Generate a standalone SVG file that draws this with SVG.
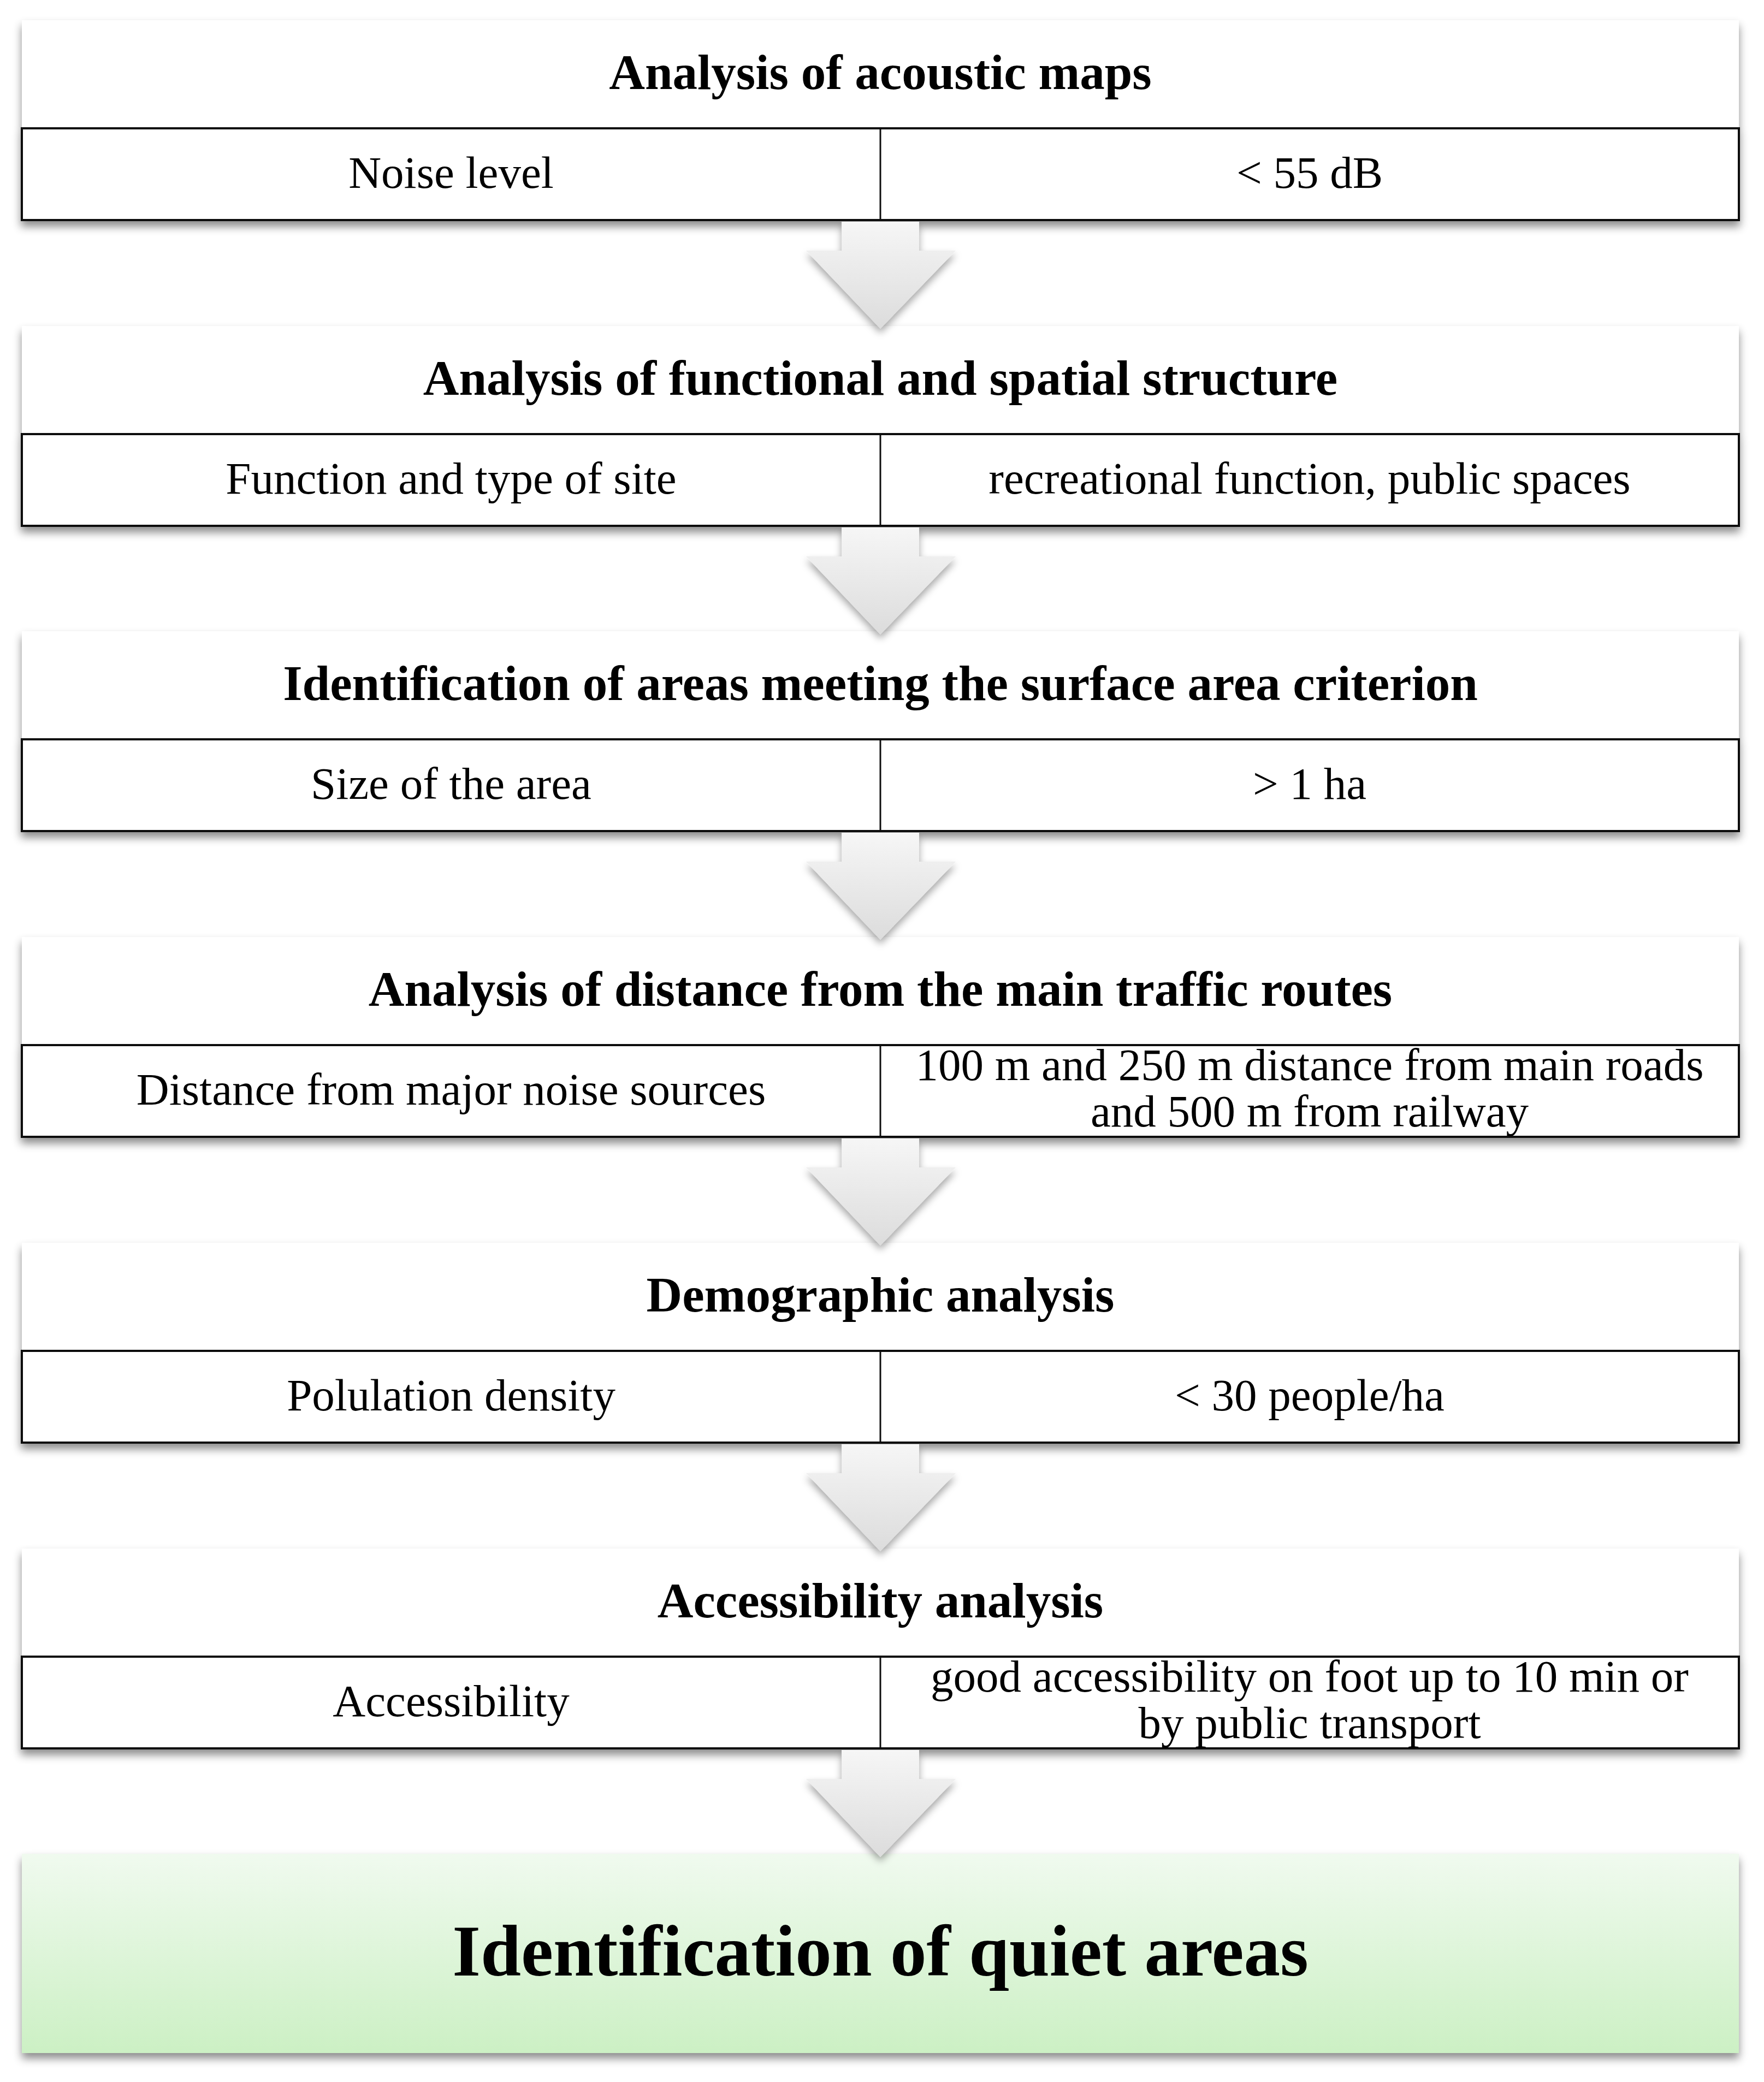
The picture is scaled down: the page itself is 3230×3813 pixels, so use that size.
<svg xmlns="http://www.w3.org/2000/svg" width="3230" height="3813" viewBox="0 0 3230 3813">
<defs>
<filter id="sh" x="-5%" y="-20%" width="110%" height="150%">
<feDropShadow dx="0" dy="10" stdDeviation="8" flood-color="#000" flood-opacity="0.45"/>
</filter>
<filter id="ash" x="-30%" y="-20%" width="160%" height="150%">
<feDropShadow dx="0" dy="8" stdDeviation="7" flood-color="#000" flood-opacity="0.35"/>
</filter>
<linearGradient id="ag" x1="0" y1="0" x2="0" y2="1">
<stop offset="0" stop-color="#f6f6f6"/>
<stop offset="1" stop-color="#dcdcdc"/>
</linearGradient>
<linearGradient id="gg" x1="0" y1="0" x2="0" y2="1">
<stop offset="0" stop-color="#f0faef"/>
<stop offset="1" stop-color="#ccf0c4"/>
</linearGradient>
<g id="box">
<rect x="40" y="0" width="3144" height="198" fill="#fff"/>
<rect x="40" y="198" width="3144" height="168" fill="#fff" stroke="#111" stroke-width="4"/>
<line x1="1612" y1="198" x2="1612" y2="366" stroke="#111" stroke-width="3"/>
</g>
<path id="arr" d="M1541,0 H1683 V53 H1750 L1612,196 L1476,53 H1541 Z"/>
</defs>
<style>
.h{font-family:"Liberation Serif","Times New Roman",serif;font-weight:bold;font-size:91px;text-anchor:middle;fill:#000}
.t{font-family:"Liberation Serif","Times New Roman",serif;font-size:83px;text-anchor:middle;fill:#000}
.f{font-family:"Liberation Serif","Times New Roman",serif;font-weight:bold;font-size:133px;text-anchor:middle;fill:#000}
.a{fill:url(#ag);filter:url(#ash)}
</style>

<g id="node1" transform="translate(0,37)">
<use href="#box" filter="url(#sh)"/>
<text class="h" x="1612" y="126">Analysis of acoustic maps</text>
<text class="t" x="826" y="307">Noise level</text>
<text class="t" x="2398" y="307">&lt; 55 dB</text>
</g>

<g id="node2" transform="translate(0,597)">
<use href="#box" filter="url(#sh)"/>
<text class="h" x="1612" y="126">Analysis of functional and spatial structure</text>
<text class="t" x="826" y="307">Function and type of site</text>
<text class="t" x="2398" y="307">recreational function, public spaces</text>
</g>

<g id="node3" transform="translate(0,1156)">
<use href="#box" filter="url(#sh)"/>
<text class="h" x="1612" y="126">Identification of areas meeting the surface area criterion</text>
<text class="t" x="826" y="307">Size of the area</text>
<text class="t" x="2398" y="307">&gt; 1 ha</text>
</g>

<g id="node4" transform="translate(0,1716)">
<use href="#box" filter="url(#sh)"/>
<text class="h" x="1612" y="126">Analysis of distance from the main traffic routes</text>
<text class="t" x="826" y="307">Distance from major noise sources</text>
<text class="t" x="2398" y="262">100 m and 250 m distance from main roads</text>
<text class="t" x="2398" y="347">and 500 m from railway</text>
</g>

<g id="node5" transform="translate(0,2276)">
<use href="#box" filter="url(#sh)"/>
<text class="h" x="1612" y="126">Demographic analysis</text>
<text class="t" x="826" y="307">Polulation density</text>
<text class="t" x="2398" y="307">&lt; 30 people/ha</text>
</g>

<g id="node6" transform="translate(0,2836)">
<use href="#box" filter="url(#sh)"/>
<text class="h" x="1612" y="126">Accessibility analysis</text>
<text class="t" x="826" y="307">Accessibility</text>
<text class="t" x="2398" y="262">good accessibility on foot up to 10 min or</text>
<text class="t" x="2398" y="347">by public transport</text>
</g>

<g id="node7">
<rect x="40" y="3395" width="3144" height="365" fill="url(#gg)" filter="url(#sh)"/>
<text class="f" x="1612" y="3618">Identification of quiet areas</text>
</g>

<g id="connectors">
<use href="#arr" class="a" transform="translate(0,406)"/>
<use href="#arr" class="a" transform="translate(0,966)"/>
<use href="#arr" class="a" transform="translate(0,1525)"/>
<use href="#arr" class="a" transform="translate(0,2085)"/>
<use href="#arr" class="a" transform="translate(0,2645)"/>
<use href="#arr" class="a" transform="translate(0,3205)"/>
</g>
</svg>
